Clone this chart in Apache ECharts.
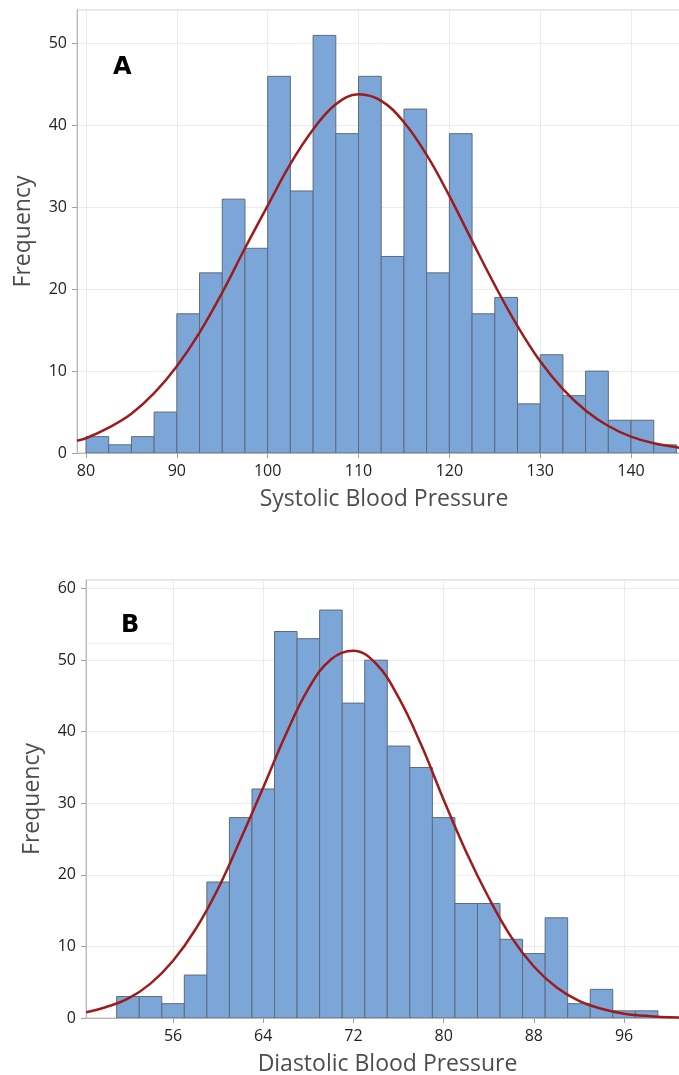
<!DOCTYPE html>
<html>
<head>
<meta charset="utf-8">
<script src="https://cdn.jsdelivr.net/npm/echarts@6/dist/echarts.min.js"></script>
<style>
html,body{margin:0;padding:0;background:#fff;}
#chart{width:679px;height:1075px;}
</style>
</head>
<body>
<div id="chart"></div>
<script>
// ---- Panel A: Systolic ----
const aBinEdges = [80, 82.5, 85, 87.5, 90, 92.5, 95, 97.5, 100, 102.5, 105, 107.5, 110, 112.5, 115, 117.5, 120, 122.5, 125, 127.5, 130, 132.5, 135, 137.5, 140, 142.5, 145];
const aCounts = [2, 1, 2, 5, 17, 22, 31, 25, 46, 32, 51, 39, 46, 24, 42, 22, 39, 17, 19, 6, 12, 7, 10, 4, 4, 1];
const aCurveX = [79, 80, 82.5, 85, 87.5, 90, 92.5, 95, 97.5, 100, 102.5, 105, 107.5, 110, 112.5, 115, 117.5, 120, 122.5, 125, 127.5, 130, 132.5, 135, 137.5, 140, 142.5, 145, 146.6];
const aCurveY = [1.5, 1.8, 3.1, 4.8, 7.3, 10.6, 14.7, 19.6, 25.0, 30.2, 35.3, 39.5, 42.6, 43.8, 43.0, 40.4, 36.4, 31.4, 25.9, 20.5, 15.5, 11.2, 7.8, 5.2, 3.3, 2.0, 1.2, 0.7, 0.45];
const aXTicks = [80, 90, 100, 110, 120, 130, 140];
const aTitle = 'Systolic Blood Pressure';

// ---- Panel B: Diastolic ----
const bBinEdges = [51, 53, 55, 57, 59, 61, 63, 65, 67, 69, 71, 73, 75, 77, 79, 81, 83, 85, 87, 89, 91, 93, 95, 97, 99];
const bCounts = [3, 3, 2, 6, 19, 28, 32, 54, 53, 57, 44, 50, 38, 35, 28, 16, 16, 11, 9, 14, 2, 4, 1, 1];
const bCurveX = [48.3, 50, 52, 54, 56, 58, 60, 62, 64, 66, 68, 70, 72, 74, 76, 78, 80, 82, 84, 86, 88, 90, 92, 94, 96, 98, 100, 101.8];
const bCurveY = [0.8, 1.5, 2.7, 4.8, 8.0, 12.4, 18.1, 25.0, 32.2, 39.6, 46.0, 50.1, 51.3, 49.5, 44.8, 38.2, 30.5, 23.2, 16.8, 11.3, 7.2, 4.3, 2.4, 1.3, 0.6, 0.3, 0.1, 0.07];
const bXTicks = [56, 64, 72, 80, 88, 96];
const bTitle = 'Diastolic Blood Pressure';

const yTitle = 'Frequency';
const panelLabels = ['A', 'B'];

function histData(edges, counts) {
  return counts.map((c, i) => [edges[i], edges[i + 1], c]);
}
function curveData(xs, ys) {
  return xs.map((x, i) => [x, ys[i]]);
}
function renderBar(params, api) {
  const p0 = api.coord([api.value(0), api.value(2)]);
  const p1 = api.coord([api.value(1), 0]);
  return {
    type: 'rect',
    shape: { x: p0[0], y: p0[1], width: p1[0] - p0[0], height: p1[1] - p0[1] },
    style: { fill: '#7ca6d8', stroke: '#5e6b79', lineWidth: 1 }
  };
}

const FONT = 'Open Sans';
function xAxis(grid, min, max, ticks, title) {
  return {
    type: 'value', gridIndex: grid, min: min, max: max,
    axisLine: { show: true, lineStyle: { color: '#b8b8b8' } },
    axisTick: { show: true, length: 5, lineStyle: { color: '#a0a0a0' }, customValues: ticks },
    axisLabel: { customValues: ticks, fontSize: 16, color: '#222', margin: 10, fontFamily: FONT },
    splitLine: { show: true, lineStyle: { color: '#ebebeb' } },
    name: title, nameLocation: 'middle', nameGap: 35,
    nameTextStyle: { fontSize: 23, color: '#4d4d4d', fontFamily: FONT }
  };
}
function yAxis(grid, max, interval) {
  return {
    type: 'value', gridIndex: grid, min: 0, max: max, interval: interval,
    axisLine: { show: true, lineStyle: { color: '#b8b8b8' } },
    axisTick: { show: true, length: 5, lineStyle: { color: '#a0a0a0' } },
    axisLabel: { fontSize: 16, color: '#222', margin: 10, fontFamily: FONT,
      showMaxLabel: false },
    splitLine: { show: true, lineStyle: { color: '#ebebeb' } },
    name: yTitle, nameLocation: 'middle', nameGap: 42,
    nameTextStyle: { fontSize: 23, color: '#4d4d4d', fontFamily: FONT }
  };
}

const chart = echarts.init(document.getElementById('chart'), null, { renderer: 'canvas' });
chart.setOption({
  animation: false,
  backgroundColor: '#fff',
  grid: [
    { left: 77, top: 10, width: 614, height: 443, outerBoundsMode: 'none', containLabel: false,
      show: true, borderColor: '#c8c8c8', borderWidth: 1 },
    { left: 86, top: 580, width: 603, height: 438, outerBoundsMode: 'none', containLabel: false,
      show: true, borderColor: '#c8c8c8', borderWidth: 1 }
  ],
  xAxis: [
    xAxis(0, 79.01, 146.6, aXTicks, aTitle),
    xAxis(1, 48.28, 101.76, bXTicks, bTitle)
  ],
  yAxis: [
    yAxis(0, 54.1, 10),
    yAxis(1, 61.2, 10)
  ],
  graphic: [
    { type: 'rect', z: 5, shape: { x: 87, y: 590, width: 86, height: 53 },
      style: { fill: '#fff', stroke: null } },
    { type: 'line', z: 5, shape: { x1: 87, y1: 643.5, x2: 172, y2: 643.5 },
      style: { stroke: '#f0f0f0', lineWidth: 1 } },
    { type: 'text', z: 10, left: 113, top: 56,
      style: { text: panelLabels[0], font: 'bold 24px "DejaVu Sans"', fill: '#000' } },
    { type: 'text', z: 10, left: 121, top: 614,
      style: { text: panelLabels[1], font: 'bold 24px "DejaVu Sans"', fill: '#000' } }
  ],
  series: [
    { type: 'custom', xAxisIndex: 0, yAxisIndex: 0, renderItem: renderBar,
      data: histData(aBinEdges, aCounts), clip: true, z: 2 },
    { type: 'line', xAxisIndex: 0, yAxisIndex: 0, data: curveData(aCurveX, aCurveY),
      smooth: 0.4, showSymbol: false, clip: true, z: 3,
      lineStyle: { color: '#9e1b1b', width: 2.5 } },
    { type: 'custom', xAxisIndex: 1, yAxisIndex: 1, renderItem: renderBar,
      data: histData(bBinEdges, bCounts), clip: true, z: 2 },
    { type: 'line', xAxisIndex: 1, yAxisIndex: 1, data: curveData(bCurveX, bCurveY),
      smooth: 0.4, showSymbol: false, clip: true, z: 3,
      lineStyle: { color: '#9e1b1b', width: 2.5 } }
  ]
});
</script>
</body>
</html>
